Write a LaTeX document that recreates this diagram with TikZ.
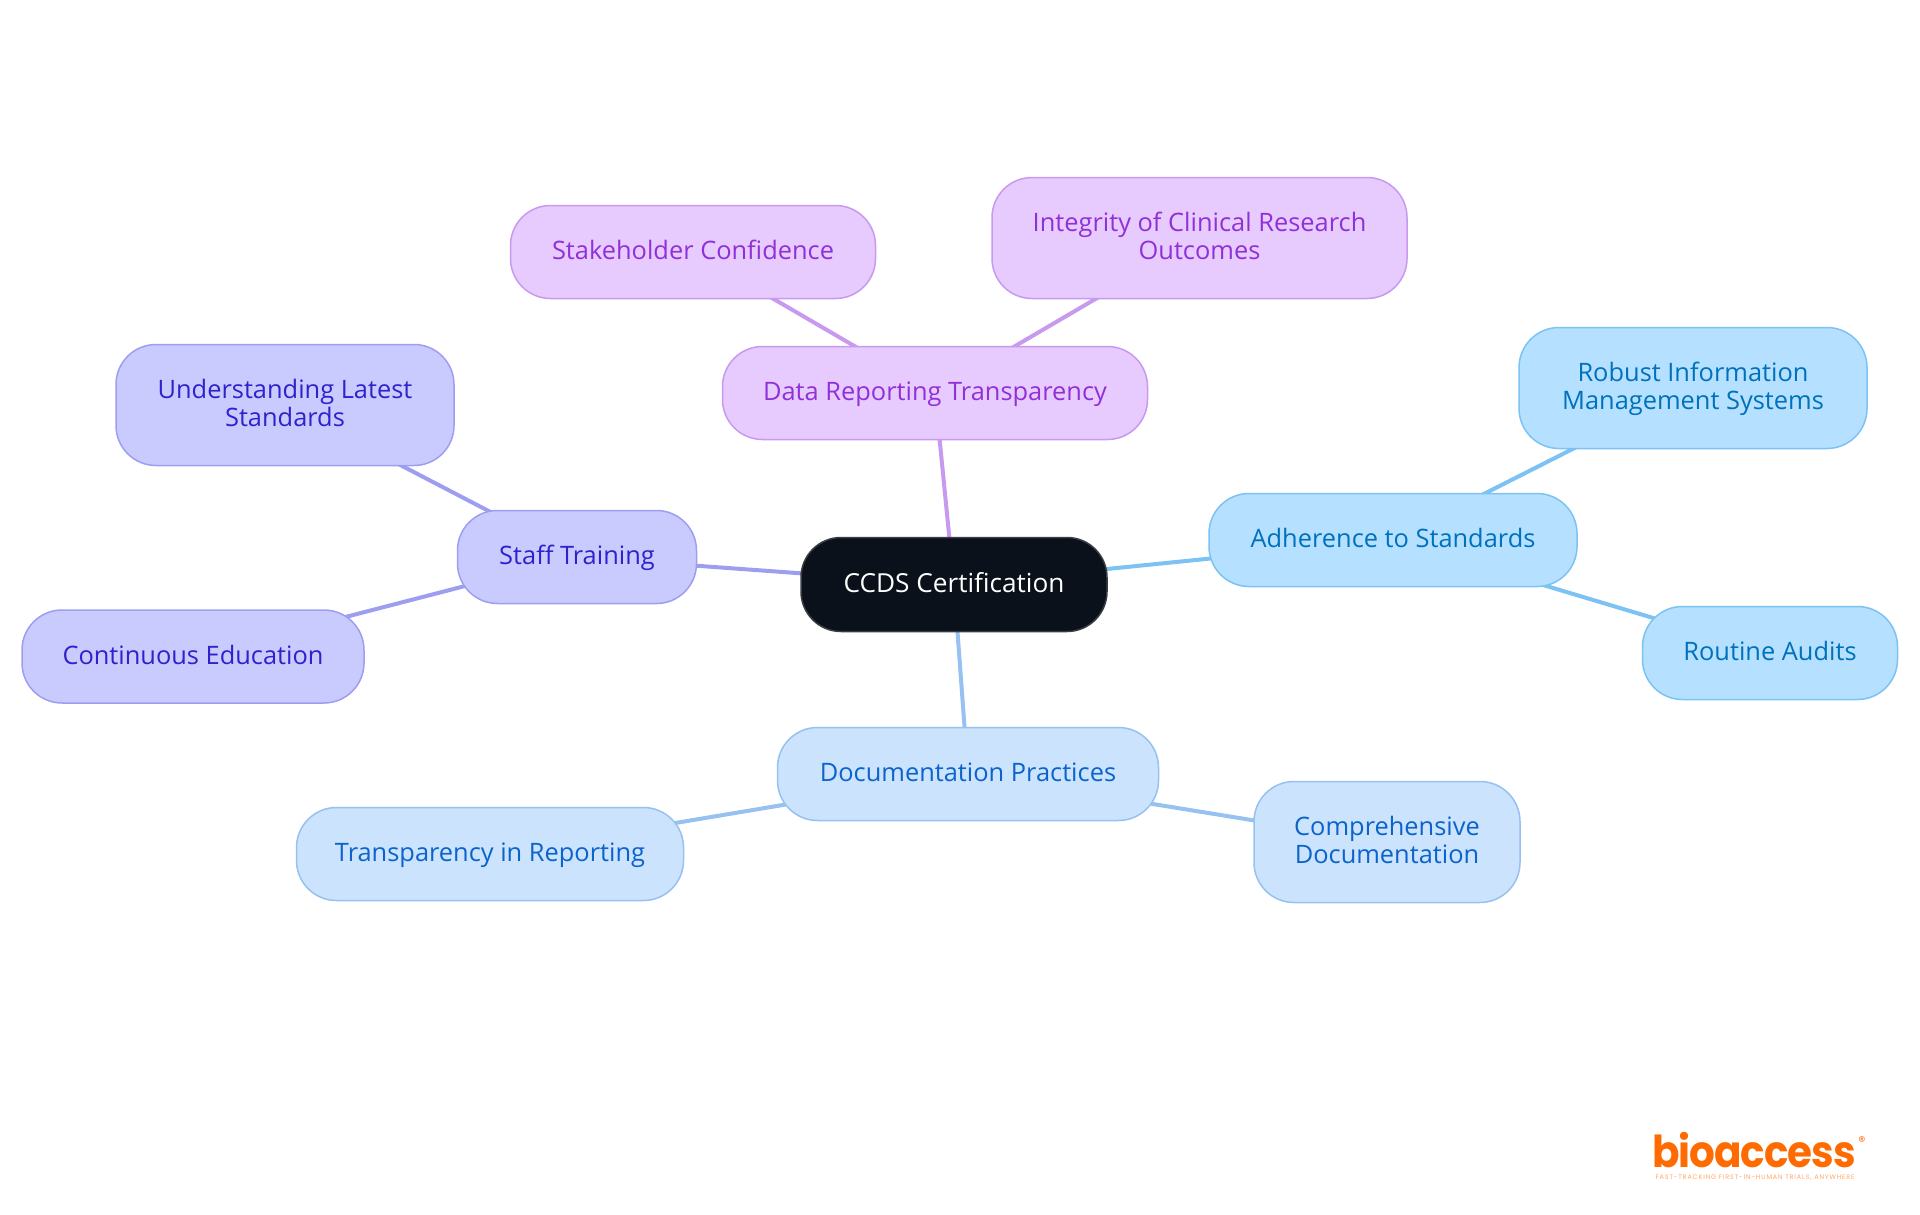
\documentclass[tikz,border=0pt]{standalone}
\usepackage{fontspec}
\setmainfont{Open Sans}
\newfontfamily\logofont{Poppins}
\usetikzlibrary{positioning, backgrounds}
\definecolor{rootfill}{HTML}{0B111A}
\definecolor{rootline}{HTML}{3A3E44}
\definecolor{adherefill}{HTML}{B5E0FF}
\definecolor{adhereline}{HTML}{7CC2F2}
\definecolor{adheretext}{HTML}{0071BC}
\definecolor{docfill}{HTML}{CCE3FD}
\definecolor{docline}{HTML}{96C1F1}
\definecolor{doctext}{HTML}{0B63CC}
\definecolor{stafffill}{HTML}{C9CBFF}
\definecolor{staffline}{HTML}{9E9EF0}
\definecolor{stafftext}{HTML}{2E22CC}
\definecolor{datafill}{HTML}{E7CBFF}
\definecolor{dataline}{HTML}{C79AF0}
\definecolor{datatext}{HTML}{9030D8}
\definecolor{logoorange}{HTML}{FF6B00}
\tikzset{
	topic/.style={draw, rectangle, rounded corners=40pt, line width=1.5pt, align=center, text centered, inner sep=0pt, minimum height=93pt, text height=21pt, text depth=6pt, font=\fontsize{25.4}{28}\selectfont},
	root/.style={topic, fill=rootfill, draw=rootline, text=white, minimum height=94pt, font=\fontsize{26.2}{28}\selectfont},
	adhere/.style={topic, fill=adherefill, draw=adhereline, text=adheretext},
	doc/.style={topic, fill=docfill, draw=docline, text=doctext},
	staff/.style={topic, fill=stafffill, draw=staffline, text=stafftext},
	data/.style={topic, fill=datafill, draw=dataline, text=datatext},
	tall/.style={minimum height=121pt, text height=48pt},
	link/.style={line width=4pt},
}
\begin{document}
\begin{tikzpicture}[x=1pt, y=-1pt]
	\useasboundingbox (0,0) rectangle (1920,1215);
	
	% Nodes
	\node [root, minimum width=306pt] (ccds) at (954,584.5) {CCDS Certification};
	
	\node [adhere, minimum width=368pt] (adherence) at (1393,540) {Adherence to Standards};
	\node [adhere, tall, minimum width=348pt] (robust) at (1693,388) {Robust Information\\Management Systems};
	\node [adhere, minimum width=255pt] (audits) at (1770,653) {Routine Audits};
	
	\node [doc, minimum width=381pt] (documentation) at (968,774) {Documentation Practices};
	\node [doc, minimum width=387pt] (reporting) at (490,854) {Transparency in Reporting};
	\node [doc, tall, minimum width=266pt] (comprehensive) at (1387,842) {Comprehensive\\Documentation};
	
	\node [staff, minimum width=239pt] (training) at (577,557) {Staff Training};
	\node [staff, tall, minimum width=338pt] (latest) at (285,405) {Understanding Latest\\Standards};
	\node [staff, minimum width=342pt] (education) at (193,656.5) {Continuous Education};
	
	\node [data, minimum width=425pt] (transparency) at (935,393) {Data Reporting Transparency};
	\node [data, minimum width=365pt] (confidence) at (693,252) {Stakeholder Confidence};
	\node [data, tall, minimum width=415pt] (integrity) at (1199.5,238) {Integrity of Clinical Research\\Outcomes};
	
	% Logo
	\node [text=logoorange, inner sep=0pt, anchor=base west, xscale=0.92, transform shape, font=\logofont\bfseries\fontsize{44}{44}\selectfont] (logo) at (1652,1167) {\addfontfeatures{LetterSpace=-2.5}bioaccess};
	\node [text=logoorange, inner sep=0pt, font=\logofont\fontsize{14}{14}\selectfont] (logomark) at (1862,1142) {®};
	\node [text=logoorange!60, inner sep=0pt, font=\logofont\fontsize{6.5}{8}\selectfont] (tagline) at (1755,1178) {\addfontfeatures{LetterSpace=13}FAST-TRACKING FIRST-IN-HUMAN TRIALS, ANYWHERE};
	
	% Links
	\begin{pgfonlayer}{background}
		\draw [link, adhereline] (ccds.center) -- (adherence.center);
		\draw [link, adhereline] (adherence.center) -- (robust.center);
		\draw [link, adhereline] (adherence.center) -- (audits.center);
		\draw [link, docline] (ccds.center) -- (documentation.center);
		\draw [link, docline] (documentation.center) -- (reporting.center);
		\draw [link, docline] (documentation.center) -- (comprehensive.center);
		\draw [link, staffline] (ccds.center) -- (training.center);
		\draw [link, staffline] (training.center) -- (latest.center);
		\draw [link, staffline] (training.center) -- (education.center);
		\draw [link, dataline] (ccds.center) -- (transparency.center);
		\draw [link, dataline] (transparency.center) -- (confidence.center);
		\draw [link, dataline] (transparency.center) -- (integrity.center);
	\end{pgfonlayer}
	
\end{tikzpicture}
\end{document}
